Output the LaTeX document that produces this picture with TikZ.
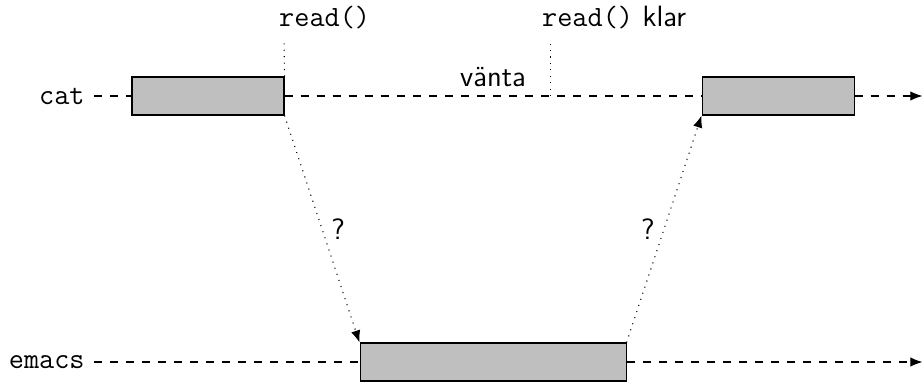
\documentclass[tikz,border=0pt]{standalone}
\usepackage{fontspec}
\usetikzlibrary{arrows.meta}

\tikzset{
    busy/.style={draw, fill=lightgray, minimum height=0.5cm, inner sep=0},
    idle/.style={dashed},
    msg/.style={dotted, -{Latex[length=4.5pt, width=3.5pt]}},
}

\begin{document}
\begin{tikzpicture}[font=\sffamily\fontsize{11}{13}\selectfont]
        \useasboundingbox (-1.737,1.263) rectangle (10.42,-3.75);

        %% CAT
        \node[anchor=east] (cat) at (-0.5,0) {\texttt{cat}};
        \node[busy, minimum width=2cm] (cat1) at (1,0) {};
        \node[busy, minimum width=2cm] (cat2) at (8.5,0) {};
        \coordinate (catend) at (10.4,0);
        % Timeline
        \draw[idle] (cat) -- (cat1);
        \draw[idle] (cat1) -- node[above] {vänta} (cat2);
        \draw[idle, -{Latex[length=4.5pt, width=3.5pt]}] (cat2) -- (catend);

        %% EMACS
        \node[anchor=east] (emacs) at (-0.5,-3.5) {\texttt{emacs}};
        \node[busy, minimum width=3.5cm] (emacs1) at (4.75,-3.5) {};
        \coordinate (emacsend) at (10.4,-3.5);
        % Timeline
        \draw[idle] (emacs) -- (emacs1);
        \draw[idle, -{Latex[length=4.5pt, width=3.5pt]}] (emacs1) -- (emacsend);

        %% MARKERS
        % read()
        \node[anchor=base west, inner sep=0] (read) at (1.93,0.91) {\texttt{read()}};
        \coordinate (readtop) at (2,0.7);
        \draw[dotted] (cat1.north east) -- (readtop);
        % read() klar
        \node[anchor=base west, inner sep=0] (klar) at (5.39,0.91) {\texttt{read()} klar};
        \coordinate (klarbot) at (5.5,0);
        \coordinate (klartop) at (5.5,0.7);
        \draw[dotted] (klarbot) -- (klartop);

        %% MESSAGES
        \draw[msg] (cat1.south east) -- node[right] {?} (emacs1.north west);
        \draw[msg] (emacs1.north east) -- node[left] {?} (cat2.south west);
    \end{tikzpicture}
\end{document}
